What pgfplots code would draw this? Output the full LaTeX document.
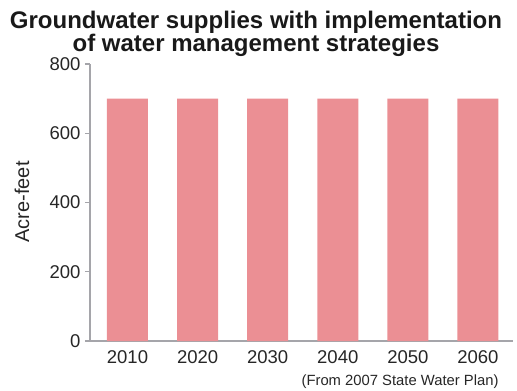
\documentclass[border=0pt]{standalone}
\usepackage{pgfplots}
\pgfplotsset{compat=1.18}
\usepackage{fontspec}
\setmainfont{Liberation Sans}
\definecolor{barc}{RGB}{235,143,148}
\definecolor{axc}{RGB}{165,165,170}
\begin{document}
\begin{tikzpicture}[x=1pt,y=1pt]
\useasboundingbox (-90,-50) rectangle (427,341);
\begin{axis}[
  at={(0,0)}, anchor=south west,
  scale only axis,
  width=423pt, height=277pt,
  xmin=-0.535, xmax=5.5,
  ymin=0, ymax=800,
  axis x line*=bottom, axis y line*=left,
  axis line style={axc, line width=1.5pt, -},
  ytick={0,200,400,600,800},
  xtick={0,1,2,3,4,5},
  xticklabels={2010,2020,2030,2040,2050,2060},
  x tick style={draw=none},
  y tick style={axc, line width=1.2pt},
  tick align=outside,
  major tick length=5pt,
  ticklabel style={font=\fontsize{18.5}{20}\selectfont, text=black!85},
  /pgf/number format/assume math mode=true,
  yticklabel style={xshift=-1pt},
  xticklabel style={yshift=-1pt},
  clip=false,
]
\addplot[ybar, bar width=41pt, fill=barc, draw=none] coordinates {(0,700) (1,700) (2,700) (3,700) (4,700) (5,700)};
\end{axis}
\draw[axc, line width=1.5pt] (-4,0) -- (0,0);
\node[anchor=base, align=center, font=\fontsize{24}{19}\selectfont\bfseries, text=black!90] at (166,289) {Groundwater supplies with implementation\\of water management strategies};
\node[rotate=90, font=\fontsize{20}{22}\selectfont, text=black!85] at (-68,139) {Acre-feet};
\node[anchor=base east, font=\fontsize{14.8}{16}\selectfont, text=black!85] at (412,-44) {(From 2007 State Water Plan)};
\end{tikzpicture}
\end{document}
